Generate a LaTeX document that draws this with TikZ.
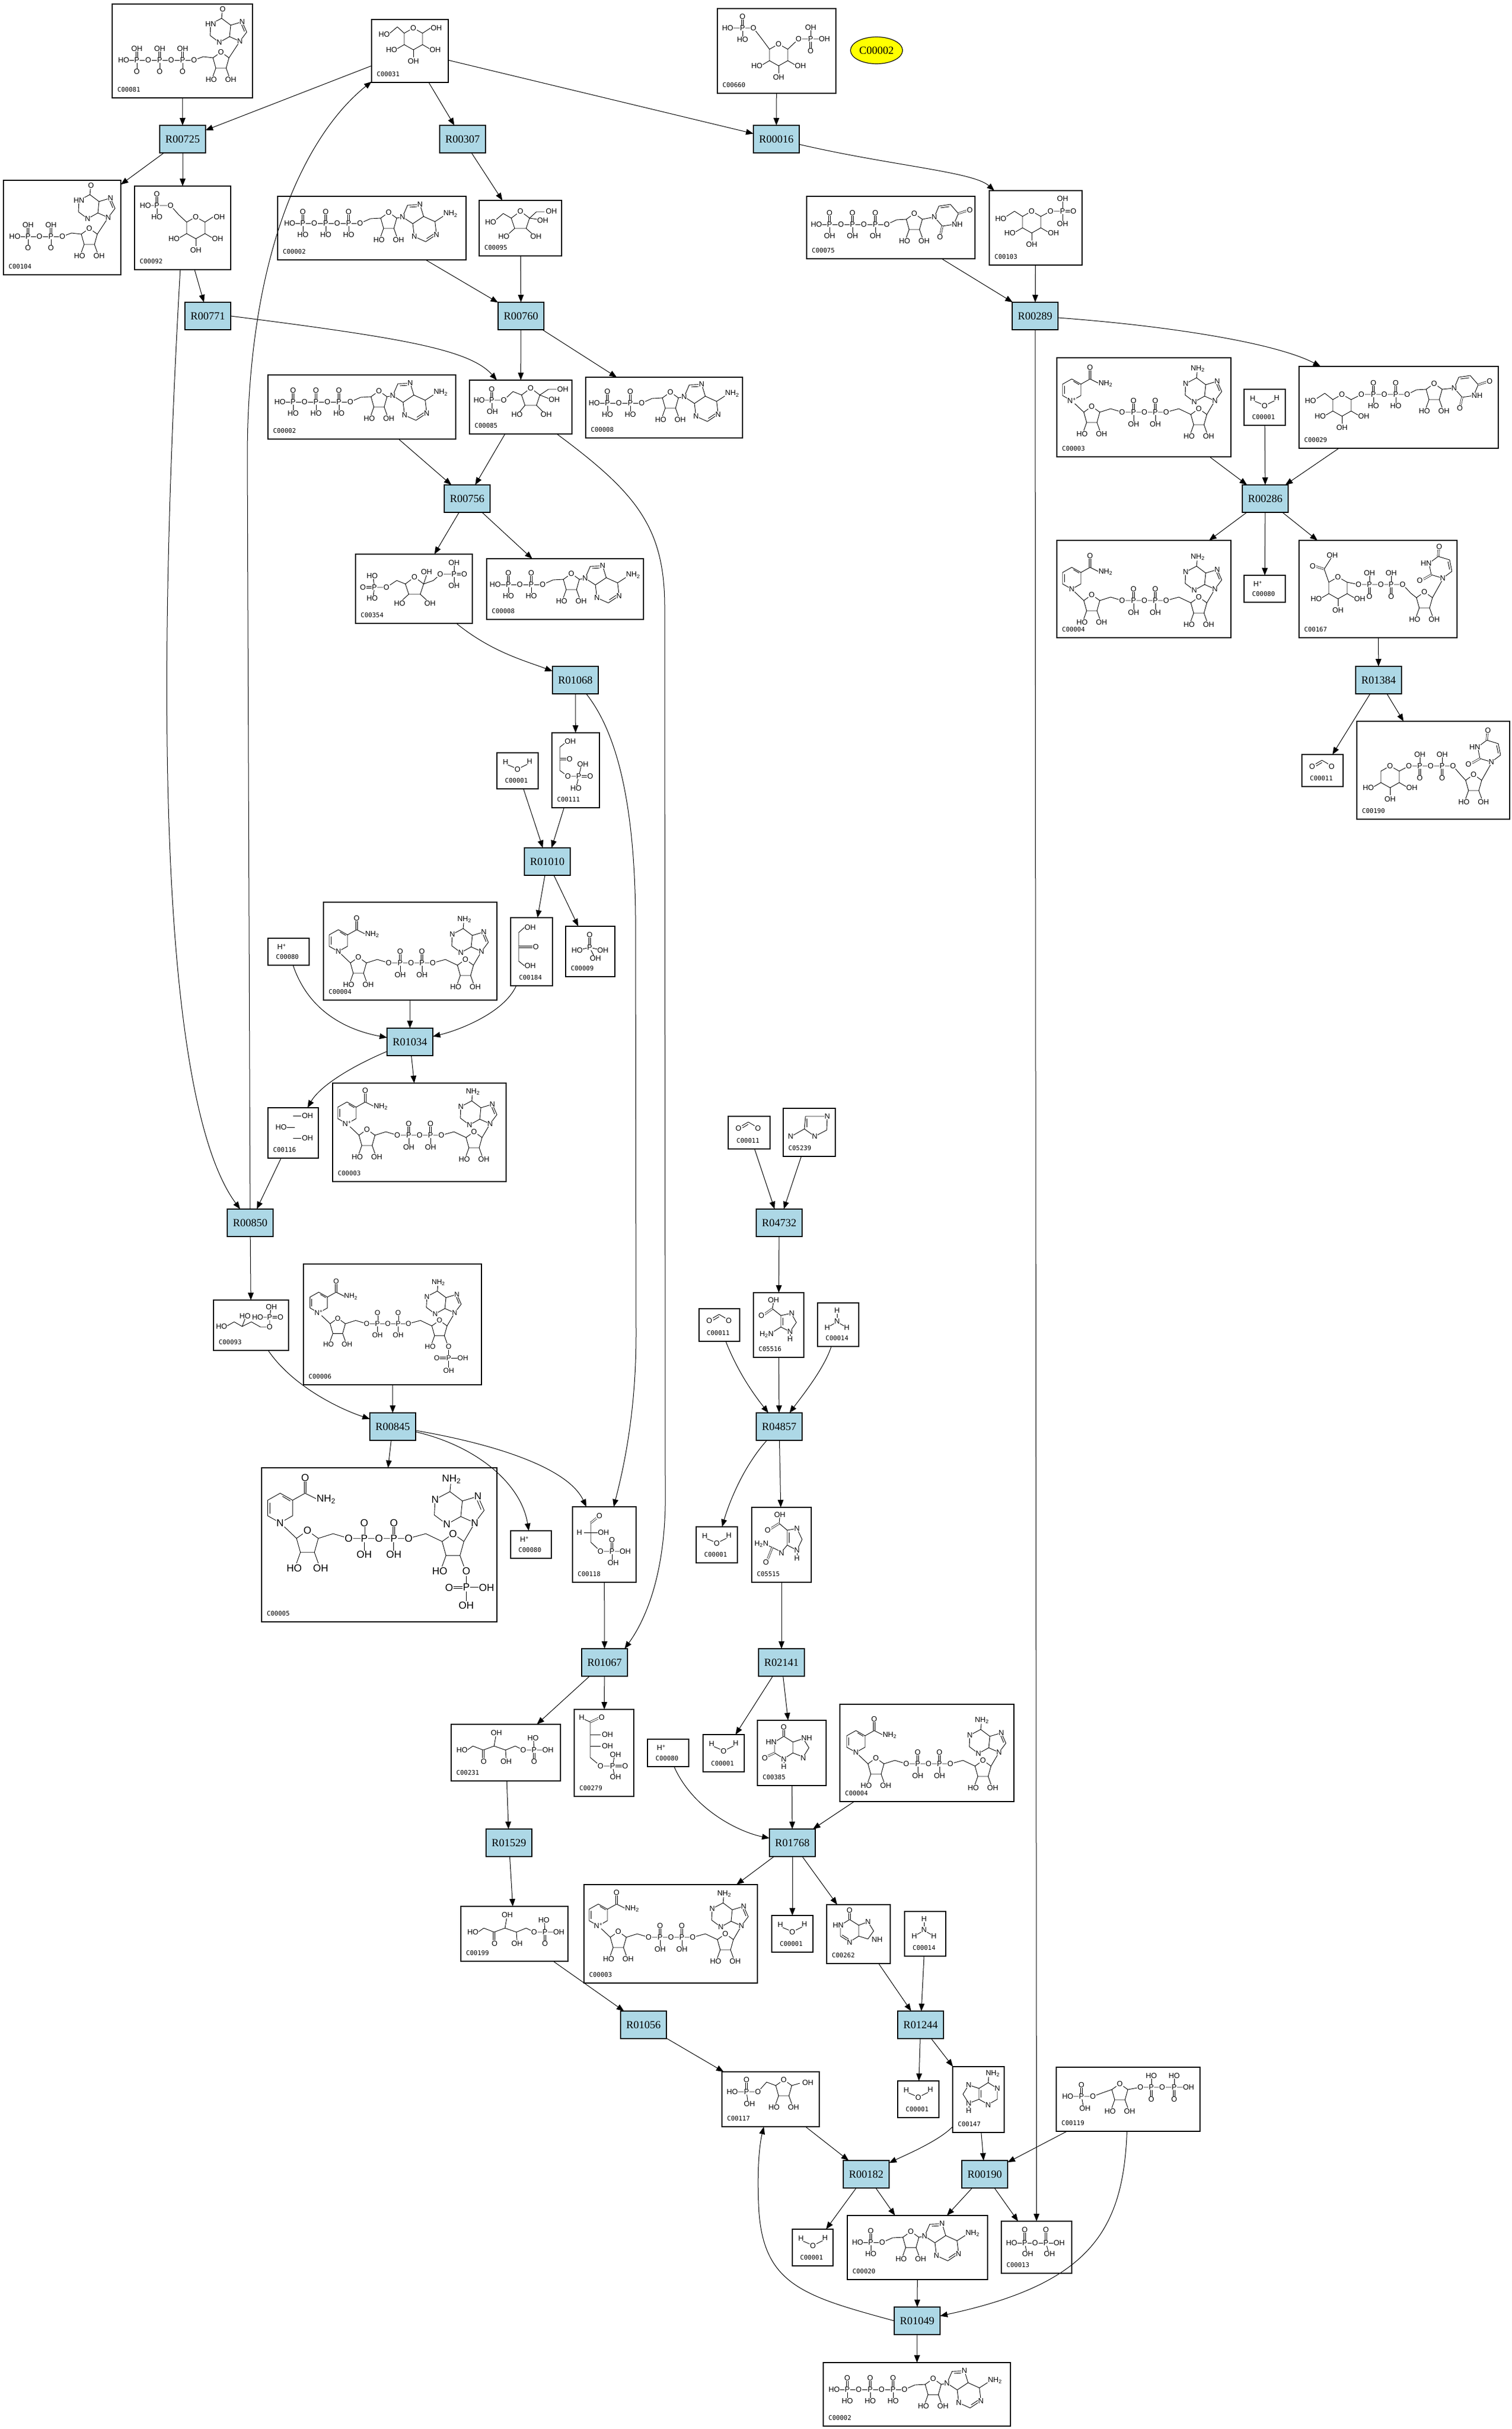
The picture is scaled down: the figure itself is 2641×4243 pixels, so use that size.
\documentclass[tikz,border=0pt]{standalone}
\usepackage{fontspec}
\setmainfont{Liberation Serif}
\newfontfamily\idfont{DejaVu Sans Mono}
\newfontfamily\atomfont{Liberation Sans}
\usetikzlibrary{arrows.meta,shapes.geometric}
\definecolor{rxnblue}{HTML}{ADD8E6}
\definecolor{cpdyellow}{HTML}{FFFF00}
\tikzset{
  cpdbox/.style={draw=black, line width=1.15pt, fill=white, inner sep=0pt, outer sep=0pt},
  rxnbox/.style={draw=black, line width=1.15pt, fill=rxnblue, inner sep=0pt, outer sep=0pt,
     minimum width=80pt, minimum height=48pt, font=\fontsize{19}{19}\selectfont},
  idlab/.style={inner sep=0pt, font=\idfont\fontsize{11}{11}\selectfont},
  atomlab/.style={inner sep=0.6pt, fill=white, font=\atomfont\fontsize{13}{13}\selectfont},
  bond/.style={line width=0.9pt},
  dbond/.style={line width=0.7pt, double, double distance=2pt},
  conn/.style={draw, line width=1.0pt, -{Triangle[length=13pt,width=10pt]}},
}
\newcounter{atm}
\newcommand\At[3]{\stepcounter{atm}\node[atomlab] (atm\arabic{atm}) at (#1,#2) {#3};}
% compound box with label at lower left
\newcommand\cpd[6]{%
  \node[cpdbox, minimum width={#4-#2}, minimum height={#5-#3}] (#1) at ({(#2+#4)/2},{(#3+#5)/2}) {};
  \node[idlab, anchor=west] (#1-id) at ({#2+9},{#5-14.5}) {#6};}
% compound box with centred label
\newcommand\cpdc[6]{%
  \node[cpdbox, minimum width={#4-#2}, minimum height={#5-#3}] (#1) at ({(#2+#4)/2},{(#3+#5)/2}) {};
  \node[idlab] (#1-id) at ({(#2+#4)/2-2},{#5-14.5}) {#6};}
\newcommand\rxn[3]{\node[rxnbox] (#1) at (#2,#3) {#1};}
% ---------- structure motifs (local px, y down) ----------
\newcommand\chainP[5]{% x0 y0 n top bottom
  \pgfmathsetmacro\cpEnd{#1+23+40*(#3-1)+20}
  \draw[bond] (#1,#2) -- (\cpEnd,#2);
  \foreach \k in {1,...,#3}{
    \pgfmathsetmacro\px{#1+23+40*(\k-1)}
    \draw[dbond] (\px,#2) -- (\px,#2-18);
    \draw[bond] (\px,#2) -- (\px,#2+18);
    \At{\px}{#2}{P}\At{\px+20}{#2}{O}\At{\px}{#2-20}{#4}\At{\px}{#2+20}{#5}}
  \At{#1}{#2}{HO}}
\newcommand\ribR[3]{% ring O at (#1,#2)
  \draw[bond] (#1,#2) -- (#1+14,#2+10) -- (#1+9,#2+28) -- (#1-9,#2+28) -- (#1-14,#2+10) -- cycle;
  \draw[bond] (#1-9,#2+28) -- (#1-14,#2+42);
  \draw[bond] (#1+9,#2+28) -- (#1+14,#2+42);
  \At{#1}{#2}{O}\At{#1-17}{#2+48}{HO}\At{#1+17}{#2+48}{#3}}
\newcommand\purR[3]{\begin{scope}[shift={(#1,#2)}, scale=0.9]
  \draw[bond] (0,0)--(10,-23)--(34,-24)--(41,-1)--(20,13)--cycle;
  \draw[bond] (41,-1)--(63,9)--(66,34)--(45,48)--(23,38)--(20,13);
  \draw[bond] (63,9)--(80,-2);
  \draw[bond] (14,-19)--(30,-20);
  \draw[bond] (47,42)--(62,32);
  \At{0}{0}{N}\At{34}{-24}{N}\At{66}{34}{N}\At{23}{38}{N}\At{93}{-6}{#3}
  \end{scope}}
\newcommand\purU[4]{\begin{scope}[shift={(#1,#2)}]
  \draw[bond] (0,0)--(12,-16)--(4,-34)--(-16,-28)--(-18,-8)--cycle;
  \draw[bond] (-16,-28)--(-32,-40)--(-51,-30)--(-52,-10)--(-36,2)--(-18,-8);
  \draw[bond] (-32,-40)--(-31,-50);
  \draw[bond] (8,-17)--(3,-29);
  \At{0}{0}{N}\At{4}{-34}{N}\At{-51}{-30}{#4}\At{-36}{2}{N}\At{-30}{-56}{#3}
  \end{scope}}
\newcommand\uraR[2]{\begin{scope}[shift={(#1,#2)}]
  \draw[bond] (0,0)--(8,-19)--(28,-22)--(42,-6)--(34,13)--(14,16)--cycle;
  \draw[bond] (11,-16)--(26,-18);
  \draw[dbond] (42,-6)--(57,-11);
  \draw[dbond] (14,16)--(11,30);
  \At{0}{0}{N}\At{40}{13}{NH}\At{62}{-12}{O}\At{10}{35}{O}
  \end{scope}}
\newcommand\uraU[2]{\begin{scope}[shift={(#1,#2)}]
  \draw[bond] (0,0)--(-20,-6)--(-24,-26)--(-8,-38)--(12,-32)--(16,-12)--cycle;
  \draw[bond] (9,-29)--(12,-15);
  \draw[dbond] (-20,-6)--(-34,2);
  \draw[dbond] (-8,-38)--(-7,-50);
  \At{0}{0}{N}\At{-29}{-26}{HN}\At{-40}{4}{O}\At{-6}{-55}{O}
  \end{scope}}
\newcommand\nic[3]{\begin{scope}[shift={(#1,#2)}]
  \draw[bond] (0,0)--(-16,-9)--(-16,-29)--(0,-38)--(16,-29)--(16,-9)--cycle;
  \draw[bond] (-13,-12)--(-13,-26); \draw[bond] (3,-34)--(13,-28);
  \draw[bond] (16,-29)--(32,-38)--(48,-30);
  \draw[dbond] (32,-38)--(32,-53);
  \At{0}{0}{#3}\At{32}{-58}{O}\At{59}{-30}{NH\textsubscript{2}}
  \end{scope}}
\newcommand\pyra[2]{% ring O at (#1,#2)
  \draw[bond] (#1,#2)--(#1+16,#2+9)--(#1+16,#2+29)--(#1,#2+38)--(#1-16,#2+29)--(#1-16,#2+9)--cycle;
  \draw[bond] (#1+16,#2+29)--(#1+28,#2+36);
  \draw[bond] (#1,#2+38)--(#1,#2+51);
  \draw[bond] (#1-16,#2+29)--(#1-28,#2+36);
  \At{#1}{#2}{O}\At{#1+38}{#2+38}{OH}\At{#1}{#2+58}{OH}\At{#1-38}{#2+38}{HO}}
% composites
\newcommand\ATPc[3]{% n, x0, y0
  \pgfmathsetmacro\cLo{#2+23+40*(#1-1)+20}
  \draw[bond] (\cLo,#3) -- (\cLo+18,#3-8) -- (\cLo+36,#3-9);
  \draw[bond] (\cLo+64,#3-9) -- (\cLo+74,#3-11);
  \chainP{#2}{#3}{#1}{O}{HO}
  \ribR{\cLo+50}{#3-19}{OH}
  \purR{\cLo+74}{#3-11}{NH\textsubscript{2}}}
\newcommand\ITPc[3]{%
  \pgfmathsetmacro\cLo{#2+23+40*(#1-1)+20}
  \draw[bond] (\cLo,#3) -- (\cLo+16,#3-6) -- (\cLo+33,#3-4);
  \draw[bond] (\cLo+61,#3-4) -- (\cLo+80,#3-33);
  \chainP{#2}{#3}{#1}{OH}{O}
  \ribR{\cLo+47}{#3-14}{OH}
  \purU{\cLo+80}{#3-33}{O}{HN}}
\newcommand\UTPc[3]{%
  \pgfmathsetmacro\cLo{#2+23+40*(#1-1)+20}
  \draw[bond] (\cLo,#3) -- (\cLo+17,#3-8) -- (\cLo+34,#3-9);
  \draw[bond] (\cLo+62,#3-9) -- (\cLo+83,#3-13);
  \chainP{#2}{#3}{#1}{O}{OH}
  \ribR{\cLo+48}{#3-19}{OH}
  \uraR{\cLo+83}{#3-13}}
\newcommand\NADc[2]{%
  \draw[bond] (26,75)--(47,95);
  \draw[bond] (75,95)--(94,89)--(114,95)--(191,95)--(213,89)--(234,99);
  \draw[bond] (262,99)--(276,75);
  \foreach \qx in {134,172}{\draw[dbond] (\qx,95)--(\qx,78); \draw[bond] (\qx,95)--(\qx,112);}
  \nic{26}{75}{#1}
  \ribR{61}{85}{OH}
  \ribR{248}{89}{#2}
  \At{114}{95}{O}\At{134}{95}{P}\At{153}{95}{O}\At{172}{95}{P}\At{191}{95}{O}
  \At{134}{75}{O}\At{134}{116}{OH}\At{172}{75}{O}\At{172}{116}{OH}
  \purU{276}{75}{NH\textsubscript{2}}{N}}
\newcommand\NADPext{%
  \draw[bond] (265,143)--(265,158)--(287,158); \draw[bond] (265,158)--(265,176);
  \draw[dbond] (265,158)--(246,158);
  \At{265}{158}{P}\At{243}{158}{O}\At{291}{158}{OH}\At{265}{181}{OH}}
\newcommand\ketopent{% HO-CH2-CO-CHOH-CHOH-CH2-O-PO3H2
  \draw[bond] (28,45)--(38,38)--(56,45)--(75,38)--(95,45)--(112,38)--(126,45)--(170,45);
  \draw[dbond] (56,45)--(56,59); \draw[bond] (75,38)--(78,21); \draw[bond] (95,45)--(96,59);
  \draw[bond] (145,45)--(144,29); \draw[dbond] (145,45)--(145,60);
  \At{19}{45}{HO}\At{57}{65}{O}\At{79}{15}{OH}\At{96}{65}{OH}\At{126}{45}{O}\At{145}{45}{P}
  \At{169}{45}{OH}\At{143}{24}{HO}\At{145}{65}{O}}
% small molecules
\newcommand\water[3]{%
  \draw[bond] ({#2+19},{#3+21}) -- ({#2+31},{#3+26});
  \draw[bond] ({#2+41},{#3+26}) -- ({#2+53},{#3+20});
  \node[atomlab] (#1-h1) at ({#2+15},{#3+16}) {H};
  \node[atomlab] (#1-o) at ({#2+36},{#3+29}) {O};
  \node[atomlab] (#1-h2) at ({#2+57},{#3+15}) {H};}
\newcommand\carbdiox[3]{%
  \draw[bond] ({#2+23},{#3+17}) -- ({#2+35},{#3+10}) -- ({#2+47},{#3+17});
  \draw[bond] ({#2+25},{#3+20}) -- ({#2+35},{#3+14});
  \node[atomlab] (#1-o1) at ({#2+18},{#3+21}) {O};
  \node[atomlab] (#1-o2) at ({#2+52},{#3+21}) {O};}
\newcommand\proton[3]{%
  \node[atomlab] (#1-h) at ({#2+24},{#3+15}) {H\textsuperscript{+}};}
\newcommand\ammonia[3]{%
  \draw[bond] ({#2+34},{#3+19}) -- ({#2+34},{#3+26});
  \draw[bond] ({#2+29},{#3+36}) -- ({#2+22},{#3+40});
  \draw[bond] ({#2+39},{#3+36}) -- ({#2+46},{#3+40});
  \node[atomlab] (#1-ht) at ({#2+34},{#3+13}) {H};
  \node[atomlab] (#1-n) at ({#2+34},{#3+32}) {N};
  \node[atomlab] (#1-hl) at ({#2+17},{#3+43}) {H};
  \node[atomlab] (#1-hr) at ({#2+51},{#3+43}) {H};}
\begin{document}
\begin{tikzpicture}[x=1pt,y=-1pt]
\useasboundingbox (0,0) rectangle (2641,4243);
\fill[white] (0,0) rectangle (2641,4243);
% ---------- compounds ----------
\cpd{c81}{196}{7}{441}{171}{C00081}
\cpd{c31}{649}{34}{783}{144}{C00031}
\cpd{c660}{1253}{15}{1460}{163}{C00660}
\node[draw=black, line width=1.15pt, fill=cpdyellow, ellipse, minimum width=91pt, minimum height=47pt, inner sep=0pt, font=\fontsize{19}{19}\selectfont] (y2) at (1531,88) {C00002};
\cpd{c104}{6}{315}{211}{480}{C00104}
\cpd{c92}{235}{325}{403}{471}{C00092}
\cpd{c2a}{485}{343}{814}{454}{C00002}
\cpd{c95}{837}{350}{981}{447}{C00095}
\cpd{c75}{1409}{343}{1703}{452}{C00075}
\cpd{c103}{1728}{333}{1890}{463}{C00103}
\cpd{c2b}{468}{655}{796}{767}{C00002}
\cpd{c85}{820}{664}{999}{758}{C00085}
\cpd{c8a}{1023}{659}{1297}{765}{C00008}
\cpd{c3a}{1846}{625}{2150}{798}{C00003}
\cpdc{c1a}{2173}{680}{2245}{743}{C00001}
\cpd{c29}{2269}{640}{2617}{783}{C00029}
\cpd{c354}{621}{968}{825}{1089}{C00354}
\cpd{c8b}{850}{976}{1124}{1082}{C00008}
\cpd{c4a}{1846}{944}{2150}{1114}{C00004}
\cpdc{c80a}{2173}{1005}{2245}{1052}{C00080}
\cpd{c167}{2269}{944}{2545}{1114}{C00167}
\cpdc{c1b}{868}{1315}{940}{1378}{C00001}
\cpd{c111}{964}{1280}{1047}{1411}{C00111}
\cpdc{c11a}{2274}{1318}{2346}{1374}{C00011}
\cpd{c190}{2370}{1260}{2637}{1431}{C00190}
\cpdc{c80b}{468}{1639}{540}{1686}{C00080}
\cpd{c4b}{565}{1576}{868}{1747}{C00004}
\cpdc{c184}{892}{1603}{965}{1722}{C00184}
\cpd{c9}{988}{1618}{1074}{1706}{C00009}
\cpd{c116}{468}{1935}{556}{2023}{C00116}
\cpd{c3b}{581}{1892}{884}{2064}{C00003}
\cpdc{c11b}{1272}{1950}{1345}{2007}{C00011}
\cpd{c5239}{1368}{1936}{1459}{2020}{C05239}
\cpd{c93}{373}{2271}{504}{2359}{C00093}
\cpd{c6}{530}{2208}{841}{2419}{C00006}
\cpd{c5516}{1316}{2258}{1404}{2371}{C05516}
\cpdc{c11c}{1221}{2286}{1292}{2343}{C00011}
\cpdc{c14a}{1428}{2276}{1500}{2352}{C00014}
\cpd{c5}{457}{2564}{868}{2833}{C00005}
\cpdc{c80c}{892}{2674}{963}{2722}{C00080}
\cpd{c118}{1000}{2632}{1111}{2764}{C00118}
\cpdc{c1c}{1216}{2667}{1288}{2730}{C00001}
\cpd{c5515}{1313}{2633}{1417}{2764}{C05515}
\cpd{c231}{788}{3012}{979}{3111}{C00231}
\cpd{c279}{1003}{2986}{1107}{3138}{C00279}
\cpdc{c80d}{1131}{3038}{1203}{3086}{C00080}
\cpdc{c1d}{1228}{3030}{1300}{3095}{C00001}
\cpd{c385}{1323}{3005}{1443}{3119}{C00385}
\cpd{c4c}{1467}{2977}{1771}{3147}{C00004}
\cpd{c3c}{1020}{3292}{1323}{3464}{C00003}
\cpd{c199}{805}{3330}{992}{3426}{C00199}
\cpdc{c1e}{1348}{3346}{1420}{3410}{C00001}
\cpd{c262}{1444}{3327}{1555}{3430}{C00262}
\cpdc{c14b}{1580}{3339}{1652}{3417}{C00014}
\cpd{c117}{1261}{3619}{1431}{3715}{C00117}
\cpdc{c1f}{1568}{3635}{1640}{3699}{C00001}
\cpd{c147}{1664}{3610}{1754}{3725}{C00147}
\cpd{c119}{1845}{3611}{2096}{3723}{C00119}
\cpdc{c1g}{1384}{3894}{1455}{3958}{C00001}
\cpd{c20}{1480}{3870}{1725}{3982}{C00020}
\cpd{c13}{1749}{3880}{1872}{3971}{C00013}
\cpd{c2c}{1438}{4127}{1765}{4238}{C00002}
% ---------- structures ----------
\water{w1a}{2173}{680}\water{w1b}{868}{1315}\water{w1c}{1216}{2667}\water{w1d}{1228}{3030}
\water{w1e}{1348}{3346}\water{w1f}{1568}{3635}\water{w1g}{1384}{3894}
\carbdiox{d11a}{2274}{1318}\carbdiox{d11b}{1272}{1950}\carbdiox{d11c}{1221}{2286}
\proton{p80a}{2173}{1005}\proton{p80b}{468}{1639}\proton{p80c}{892}{2674}\proton{p80d}{1131}{3038}
\ammonia{n14a}{1428}{2276}\ammonia{n14b}{1580}{3339}
% nucleoside triphosphates etc.
\begin{scope}[shift={(485,343)}]\ATPc{3}{21}{47}\end{scope}
\begin{scope}[shift={(468,655)}]\ATPc{3}{21}{47}\end{scope}
\begin{scope}[shift={(1438,4127)}]\ATPc{3}{19}{47}\end{scope}
\begin{scope}[shift={(1023,659)}]\ATPc{2}{15}{45}\end{scope}
\begin{scope}[shift={(850,976)}]\ATPc{2}{15}{45}\end{scope}
\begin{scope}[shift={(1480,3870)}]\ATPc{1}{18}{47}\end{scope}
\begin{scope}[shift={(196,7)}]\ITPc{3}{20}{98}\end{scope}
\begin{scope}[shift={(6,315)}]\ITPc{2}{20}{98}\end{scope}
\begin{scope}[shift={(1409,343)}]\UTPc{3}{17}{49}\end{scope}
% NAD(P)(H)
\begin{scope}[shift={(1846,625)}]\NADc{N\textsuperscript{+}}{OH}\end{scope}
\begin{scope}[shift={(1846,954)}]\NADc{N}{OH}\end{scope}
\begin{scope}[shift={(565,1587)}]\NADc{N}{OH}\end{scope}
\begin{scope}[shift={(580,1888)}]\NADc{N\textsuperscript{+}}{OH}\end{scope}
\begin{scope}[shift={(1469,2986)}]\NADc{N}{OH}\end{scope}
\begin{scope}[shift={(1019,3289)}]\NADc{N\textsuperscript{+}}{OH}\end{scope}
\begin{scope}[shift={(532,2222)}, scale=0.95, transform shape]\NADc{N\textsuperscript{+}}{O}\NADPext\end{scope}
\begin{scope}[shift={(454,2558)}, scale=1.36, transform shape]\NADc{N}{O}\NADPext\end{scope}
% sugars
\begin{scope}[shift={(649,34)}]
  \draw[bond] (57,24)--(45,13)--(32,24); \draw[bond] (89,24)--(103,15);
  \pyra{73}{15}\At{22}{26}{HO}\At{113}{15}{OH}
\end{scope}
\begin{scope}[shift={(235,325)}]
  \draw[bond] (123,63)--(137,54);
  \draw[bond] (91,63)--(77,50)--(63,34)--(19,34); \draw[dbond] (39,34)--(39,16); \draw[bond] (39,34)--(39,52);
  \pyra{107}{54}
  \At{148}{54}{OH}\At{63}{34}{O}\At{39}{34}{P}\At{19}{34}{HO}\At{39}{14}{O}\At{39}{54}{HO}
\end{scope}
\begin{scope}[shift={(1728,333)}]
  \draw[bond] (58,45)--(44,36)--(30,45);
  \draw[bond] (90,45)--(107,36)--(128,36); \draw[dbond] (128,36)--(144,36);
  \draw[bond] (128,36)--(128,16); \draw[bond] (128,36)--(128,56);
  \pyra{74}{36}
  \At{20}{49}{HO}\At{107}{36}{O}\At{128}{36}{P}\At{147}{36}{O}\At{128}{14}{OH}\At{128}{58}{OH}
\end{scope}
\begin{scope}[shift={(1253,15)}]
  \draw[bond] (91,71)--(77,52)--(63,34)--(18,34); \draw[dbond] (44,34)--(44,16); \draw[bond] (44,34)--(44,52);
  \draw[bond] (123,71)--(142,53)--(187,53); \draw[bond] (163,53)--(163,35); \draw[dbond] (163,53)--(163,70);
  \pyra{107}{62}
  \At{63}{34}{O}\At{44}{34}{P}\At{18}{34}{HO}\At{44}{14}{O}\At{44}{54}{HO}
  \At{142}{53}{O}\At{163}{53}{P}\At{187}{53}{OH}\At{163}{33}{OH}\At{163}{74}{O}
\end{scope}
\begin{scope}[shift={(2269,640)}]
  \draw[bond] (59,58)--(45,47)--(31,56);
  \draw[bond] (91,58)--(109,49)--(189,49)--(205,41)--(222,40);
  \foreach \qx in {130,169}{\draw[dbond] (\qx,49)--(\qx,32); \draw[bond] (\qx,49)--(\qx,66);}
  \draw[bond] (250,40)--(271,38);
  \pyra{75}{49}
  \At{20}{60}{HO}\At{109}{49}{O}\At{130}{49}{P}\At{149}{49}{O}\At{169}{49}{P}\At{189}{49}{O}
  \At{130}{29}{O}\At{130}{69}{HO}\At{169}{29}{O}\At{169}{69}{HO}
  \ribR{236}{30}{OH}\uraR{271}{38}
\end{scope}
\begin{scope}[shift={(2269,944)}]
  \draw[bond] (52,73)--(44,50)--(56,31); \draw[dbond] (44,50)--(28,45);
  \draw[bond] (84,73)--(104,77)--(181,77)--(195,92)--(205,100);
  \foreach \qx in {123,161}{\draw[bond] (\qx,77)--(\qx,60); \draw[dbond] (\qx,77)--(\qx,94);}
  \draw[bond] (233,100)--(251,68);
  \pyra{68}{64}
  \At{58}{26}{OH}\At{24}{45}{O}
  \At{104}{77}{O}\At{123}{77}{P}\At{143}{77}{O}\At{161}{77}{P}\At{181}{77}{O}
  \At{123}{57}{OH}\At{123}{98}{O}\At{161}{57}{OH}\At{161}{98}{O}
  \ribR{219}{90}{OH}\uraU{251}{66}
\end{scope}
\begin{scope}[shift={(2370,1260)}]
  \draw[bond] (74,87)--(91,78)--(168,78)--(180,92)--(190,103);
  \foreach \qx in {110,149}{\draw[bond] (\qx,78)--(\qx,61); \draw[dbond] (\qx,78)--(\qx,95);}
  \draw[bond] (218,103)--(235,73);
  \pyra{58}{78}
  \At{91}{78}{O}\At{110}{78}{P}\At{129}{78}{O}\At{149}{78}{P}\At{168}{78}{O}
  \At{110}{58}{OH}\At{110}{99}{O}\At{149}{58}{OH}\At{149}{99}{O}
  \ribR{204}{93}{OH}\uraU{235}{71}
\end{scope}
% furanoses
\begin{scope}[shift={(837,350)}]
  \draw[bond] (72,19)--(88,31)--(82,49)--(62,49)--(56,31)--cycle;
  \draw[bond] (56,31)--(42,23)--(28,35); \draw[bond] (62,49)--(52,58); \draw[bond] (82,49)--(92,58);
  \draw[bond] (88,31)--(101,33); \draw[bond] (88,31)--(100,20)--(114,20);
  \At{72}{19}{O}\At{20}{38}{HO}\At{43}{63}{HO}\At{99}{63}{OH}\At{111}{35}{OH}\At{126}{19}{OH}
\end{scope}
\begin{scope}[shift={(820,664)}]
  \draw[bond] (107,14)--(123,26)--(117,44)--(97,44)--(91,26)--cycle;
  \draw[bond] (91,26)--(76,20)--(60,35)--(17,35); \draw[dbond] (39,35)--(39,18); \draw[bond] (39,35)--(39,52);
  \draw[bond] (97,44)--(88,55); \draw[bond] (117,44)--(128,55);
  \draw[bond] (123,26)--(138,32); \draw[bond] (123,26)--(138,16)--(152,16);
  \At{107}{14}{O}\At{60}{35}{O}\At{39}{35}{P}\At{17}{35}{HO}\At{39}{16}{O}\At{40}{55}{OH}
  \At{83}{60}{HO}\At{134}{60}{OH}\At{148}{34}{OH}\At{163}{16}{OH}
\end{scope}
\begin{scope}[shift={(621,968)}]
  \draw[bond] (103,40)--(119,52)--(113,70)--(93,70)--(87,52)--cycle;
  \draw[bond] (87,52)--(72,46)--(54,58)--(33,58); \draw[dbond] (33,58)--(16,58);
  \draw[bond] (33,58)--(31,42); \draw[bond] (33,58)--(31,73);
  \draw[bond] (93,70)--(82,80); \draw[bond] (113,70)--(124,80); \draw[bond] (119,52)--(124,37);
  \draw[bond] (119,52)--(136,46)--(148,35)--(172,35); \draw[dbond] (172,35)--(186,35);
  \draw[bond] (172,35)--(172,18); \draw[bond] (172,35)--(172,52);
  \At{103}{40}{O}\At{29}{38}{HO}\At{13}{58}{O}\At{33}{58}{P}\At{54}{58}{O}\At{29}{77}{HO}
  \At{77}{86}{HO}\At{130}{86}{OH}\At{124}{31}{OH}\At{148}{35}{O}\At{172}{35}{P}\At{190}{35}{O}
  \At{172}{15}{OH}\At{172}{55}{OH}
\end{scope}
\begin{scope}[shift={(1261,3619)}]
  \draw[bond] (122,24)--(136,20); \draw[bond] (94,24)--(78,18)--(63,35)--(18,35);
  \draw[dbond] (43,35)--(43,18); \draw[bond] (43,35)--(45,51);
  \ribR{108}{14}{OH}
  \At{63}{35}{O}\At{43}{35}{P}\At{18}{35}{HO}\At{43}{14}{O}\At{48}{56}{OH}\At{150}{19}{OH}
\end{scope}
\begin{scope}[shift={(1845,3611)}]
  \draw[bond] (20,51)--(64,51)--(80,45)--(97,39); \draw[dbond] (44,51)--(44,34); \draw[bond] (44,51)--(47,67);
  \draw[bond] (125,39)--(147,35)--(231,35);
  \foreach \qx in {166,206}{\draw[bond] (\qx,35)--(\qx,19); \draw[dbond] (\qx,35)--(\qx,52);}
  \ribR{111}{29}{OH}
  \At{20}{51}{HO}\At{44}{51}{P}\At{64}{51}{O}\At{44}{31}{O}\At{50}{72}{OH}
  \At{147}{35}{O}\At{166}{35}{P}\At{185}{35}{O}\At{206}{35}{P}\At{231}{35}{OH}
  \At{166}{15}{HO}\At{166}{56}{O}\At{206}{15}{HO}\At{206}{56}{O}
\end{scope}
% small organics
\begin{scope}[shift={(964,1280)}]
  \draw[bond] (24,17)--(14,25)--(14,46)--(14,66)--(28,76)--(47,76); \draw[dbond] (14,46)--(27,46);
  \draw[dbond] (47,76)--(63,76); \draw[bond] (47,76)--(51,59); \draw[bond] (47,76)--(43,93);
  \At{32}{15}{OH}\At{31}{46}{O}\At{28}{76}{O}\At{47}{76}{P}\At{67}{76}{O}\At{54}{55}{OH}\At{42}{97}{HO}
\end{scope}
\begin{scope}[shift={(892,1603)}]
  \draw[bond] (24,17)--(14,26)--(14,51)--(14,76)--(24,84); \draw[dbond] (14,51)--(38,51);
  \At{34}{17}{OH}\At{44}{51}{O}\At{34}{84}{OH}
\end{scope}
\begin{scope}[shift={(988,1618)}]
  \draw[dbond] (42,37)--(42,20); \draw[bond] (20,42)--(42,37)--(65,42); \draw[bond] (42,37)--(50,53);
  \At{42}{15}{O}\At{42}{37}{P}\At{20}{42}{HO}\At{65}{42}{OH}\At{52}{56}{OH}
\end{scope}
\begin{scope}[shift={(468,1935)}]
  \draw[bond] (44,14)--(58,14); \draw[bond] (33,34)--(47,34); \draw[bond] (44,53)--(58,53);
  \At{69}{14}{OH}\At{23}{34}{HO}\At{69}{53}{OH}
\end{scope}
\begin{scope}[shift={(373,2271)}]
  \draw[bond] (22,46)--(36,38)--(50,46)--(66,38)--(82,47)--(98,47)--(98,30)--(77,30);
  \draw[bond] (50,46)--(55,33); \draw[bond] (98,30)--(100,16); \draw[dbond] (98,30)--(113,30);
  \At{14}{46}{HO}\At{55}{28}{HO}\At{77}{30}{HO}\At{98}{30}{P}\At{117}{30}{O}\At{101}{12}{OH}\At{98}{47}{O}
\end{scope}
\begin{scope}[shift={(1000,2632)}]
  \draw[dbond] (32,28)--(43,19); \draw[bond] (32,28)--(32,62)--(49,78)--(91,78);
  \draw[bond] (20,45)--(46,45); \draw[dbond] (69,78)--(69,61); \draw[bond] (69,78)--(69,95);
  \At{47}{16}{O}\At{12}{45}{H}\At{54}{45}{OH}\At{49}{78}{O}\At{69}{78}{P}\At{92}{78}{OH}\At{69}{58}{O}\At{71}{98}{OH}
\end{scope}
\begin{scope}[shift={(788,3012)}]\ketopent\end{scope}
\begin{scope}[shift={(807,3330)}]\ketopent\end{scope}
\begin{scope}[shift={(1003,2986)}]
  \draw[bond] (17,17)--(28,22); \draw[dbond] (28,22)--(43,15);
  \draw[bond] (28,22)--(28,84)--(46,99)--(67,99); \draw[bond] (28,44)--(46,44); \draw[bond] (28,64)--(46,64);
  \draw[dbond] (67,99)--(85,99); \draw[bond] (67,99)--(70,83); \draw[bond] (67,99)--(70,114);
  \At{13}{14}{H}\At{48}{14}{O}\At{58}{44}{OH}\At{58}{64}{OH}\At{72}{79}{OH}\At{46}{99}{O}\At{67}{99}{P}\At{89}{99}{O}\At{72}{118}{OH}
\end{scope}
\begin{scope}[shift={(1749,3880)}]
  \draw[bond] (18,38)--(101,38); \draw[dbond] (41,38)--(41,19); \draw[dbond] (78,38)--(78,19);
  \draw[bond] (41,38)--(44,53); \draw[bond] (78,38)--(82,53);
  \At{18}{38}{HO}\At{41}{38}{P}\At{59}{38}{O}\At{78}{38}{P}\At{101}{38}{OH}\At{41}{15}{O}\At{78}{15}{O}\At{46}{57}{OH}\At{84}{57}{OH}
\end{scope}
% bases
\begin{scope}[shift={(1664,3610)}]
  \draw[bond] (62,28)--(78,38)--(78,57)--(62,66)--(46,57)--(46,38)--cycle;
  \draw[bond] (46,38)--(28,32)--(18,48)--(28,64)--(46,57); \draw[bond] (62,28)--(63,17);
  \draw[bond] (49,41)--(49,54); \draw[bond] (28,64)--(28,72);
  \At{70}{12}{NH\textsubscript{2}}\At{78}{38}{N}\At{62}{67}{N}\At{28}{32}{N}\At{28}{64}{N}\At{28}{77}{H}
\end{scope}
\begin{scope}[shift={(1444,3327)}]
  \draw[bond] (40,26)--(24,36)--(24,55)--(40,65)--(56,55)--(56,36)--cycle;
  \draw[bond] (56,36)--(72,30)--(82,46)--(72,60)--(56,55); \draw[dbond] (40,26)--(40,14);
  \draw[bond] (27,53)--(38,60);
  \At{40}{10}{O}\At{20}{36}{HN}\At{40}{66}{N}\At{72}{30}{N}\At{88}{61}{NH}
\end{scope}
\begin{scope}[shift={(1323,3005)}]
  \draw[bond] (46,28)--(30,38)--(30,57)--(46,67)--(62,57)--(62,38)--cycle;
  \draw[bond] (62,38)--(80,32)--(90,48)--(80,64)--(62,57); \draw[dbond] (46,28)--(46,16);
  \draw[dbond] (30,57)--(17,63); \draw[bond] (46,67)--(46,75);
  \At{46}{12}{O}\At{24}{38}{HN}\At{13}{66}{O}\At{46}{68}{N}\At{46}{81}{H}\At{86}{31}{NH}\At{80}{66}{N}
\end{scope}
\begin{scope}[shift={(1368,1936)}]
  \draw[bond] (39,14)--(77,14)--(76,38)--(55,49)--(37,36)--cycle; \draw[bond] (41,18)--(41,33);
  \draw[bond] (37,36)--(14,49);
  \At{77}{14}{N}\At{55}{49}{N}\At{13}{49}{N}
\end{scope}
\begin{scope}[shift={(1316,2258)}]
  \draw[bond] (48,40)--(66,36)--(75,52)--(64,68)--(48,60)--cycle; \draw[bond] (51,44)--(51,57);
  \draw[bond] (48,40)--(33,28)--(35,17); \draw[dbond] (33,28)--(19,38); \draw[bond] (48,60)--(32,70);
  \draw[bond] (64,68)--(64,76);
  \At{35}{13}{OH}\At{14}{40}{O}\At{67}{36}{N}\At{64}{68}{N}\At{64}{81}{H}\At{23}{73}{H\textsubscript{2}N}
\end{scope}
\begin{scope}[shift={(1313,2633)}]
  \draw[bond] (62,40)--(79,37)--(88,56)--(79,75)--(62,66)--cycle; \draw[bond] (65,44)--(65,62);
  \draw[bond] (62,40)--(48,28)--(49,17); \draw[dbond] (48,28)--(32,38);
  \draw[bond] (62,66)--(52,78)--(36,70)--(22,64); \draw[dbond] (36,70)--(28,90);
  \draw[bond] (79,75)--(79,84);
  \At{49}{13}{OH}\At{28}{40}{O}\At{79}{37}{N}\At{79}{75}{N}\At{79}{89}{H}\At{17}{64}{H\textsubscript{2}N}\At{52}{80}{N}\At{25}{96}{O}
\end{scope}
% ---------- reactions ----------
\rxn{R00725}{319}{243}
\rxn{R00307}{808}{243}
\rxn{R00016}{1356}{243}
\rxn{R00771}{363}{552}
\rxn{R00760}{910}{552}
\rxn{R00289}{1808}{552}
\rxn{R00756}{816}{871}
\rxn{R00286}{2210}{871}
\rxn{R01068}{1005}{1188}
\rxn{R01384}{2408}{1188}
\rxn{R01010}{956}{1505}
\rxn{R01034}{716}{1820}
\rxn{R04732}{1361}{2136}
\rxn{R00850}{437}{2136}
\rxn{R00845}{686}{2492}
\rxn{R04857}{1361}{2492}
\rxn{R01067}{1056}{2904}
\rxn{R02141}{1365}{2904}
\rxn{R01529}{889}{3219}
\rxn{R01768}{1384}{3219}
\rxn{R01056}{1124}{3537}
\rxn{R01244}{1608}{3537}
\rxn{R00182}{1513}{3798}
\rxn{R00190}{1720}{3798}
\rxn{R01049}{1602}{4054}
% ---------- connectors ----------
\draw[conn] (c81) -- (R00725);
\draw[conn] (c31) -- (R00725);
\draw[conn] (c31) -- (R00307);
\draw[conn] (c31) -- (R00016);
\draw[conn] (c660) -- (R00016);
\draw[conn] (R00725) -- (c104);
\draw[conn] (R00725) -- (c92);
\draw[conn] (R00307) -- (c95);
\draw[conn] (c92) -- (R00771);
\draw[conn] (c92) .. controls (262,1400) and (300,1950) .. (R00850);
\draw[conn] (R00850) -- (432,800) .. controls (432,430) and (540,230) .. (c31);
\draw[conn] (R00771.east) .. controls (700,590) and (820,610) .. (c85);
\draw[conn] (c2a) -- (R00760);
\draw[conn] (c95) -- (R00760);
\draw[conn] (R00760) -- (c85);
\draw[conn] (R00760) -- (c8a);
\draw[conn] (c2b) -- (R00756);
\draw[conn] (c85) -- (R00756);
\draw[conn] (c85) .. controls (1110,860) and (1161,920) .. (1161,1060) -- (1162,2600) .. controls (1165,2760) and (1120,2840) .. ([xshift=-5pt]R01067.north east);
\draw[conn] (R00756) -- (c354);
\draw[conn] (R00756) -- (c8b);
\draw[conn] (c354) .. controls (860,1140) and (920,1155) .. (R01068);
\draw[conn] (R01068) -- (c111);
\draw[conn] (R01068) .. controls (1070,1270) and (1108,1380) .. (1110,1600) -- (1111,2330) .. controls (1111,2480) and (1085,2580) .. (c118);
\draw[conn] (c1b) -- (R01010);
\draw[conn] (c111) -- (R01010);
\draw[conn] (R01010) -- (c184);
\draw[conn] (R01010) -- (c9);
\draw[conn] (c80b) .. controls (540,1770) and (610,1800) .. (R01034);
\draw[conn] (c4b) -- (R01034);
\draw[conn] (c184) .. controls (880,1770) and (800,1800) .. (R01034);
\draw[conn] (R01034) .. controls (620,1860) and (560,1895) .. (c116);
\draw[conn] (R01034) -- (c3b);
\draw[conn] (c116) -- (R00850);
\draw[conn] (R00850) -- (c93);
\draw[conn] (c93) .. controls (510,2420) and (590,2460) .. (R00845);
\draw[conn] (c6) -- (R00845);
\draw[conn] (R00845) -- (c5);
\draw[conn] (R00845) .. controls (830,2525) and (910,2590) .. (c80c);
\draw[conn] (R00845) .. controls (850,2520) and (990,2560) .. (c118);
\draw[conn] (c118) -- (R01067);
\draw[conn] (R01067) -- (c231);
\draw[conn] (R01067) -- (c279);
\draw[conn] (c231) -- (R01529);
\draw[conn] (R01529) -- (c199);
\draw[conn] (c199) -- (R01056);
\draw[conn] (R01056) -- (c117);
\draw[conn] (c11b) -- (R04732);
\draw[conn] (c5239) -- (R04732);
\draw[conn] (R04732) -- (c5516);
\draw[conn] (c11c) .. controls (1290,2400) and (1320,2440) .. (R04857);
\draw[conn] (c5516) -- (R04857);
\draw[conn] (c14a) .. controls (1440,2390) and (1400,2440) .. (R04857);
\draw[conn] (R04857) .. controls (1300,2560) and (1275,2620) .. (c1c);
\draw[conn] (R04857) -- (c5515);
\draw[conn] (c5515) -- (R02141);
\draw[conn] (R02141) -- (c1d);
\draw[conn] (R02141) -- (c385);
\draw[conn] (c80d) .. controls (1210,3160) and (1290,3200) .. (R01768);
\draw[conn] (c385) -- (R01768);
\draw[conn] (c4c) -- (R01768);
\draw[conn] (R01768) -- (c3c);
\draw[conn] (R01768) -- (c1e);
\draw[conn] (R01768) -- (c262);
\draw[conn] (c262) -- (R01244);
\draw[conn] (c14b) -- (R01244);
\draw[conn] (R01244) -- (c1f);
\draw[conn] (R01244) -- (c147);
\draw[conn] (c117) -- (R00182);
\draw[conn] (c147) .. controls (1640,3740) and (1580,3765) .. (R00182);
\draw[conn] (c147) -- (R00190);
\draw[conn] (c119) -- (R00190);
\draw[conn] (R00182) -- (c1g);
\draw[conn] (R00182) -- (c20);
\draw[conn] (R00190) -- (c20);
\draw[conn] (R00190) -- (c13);
\draw[conn] (R00289) -- (c13);
\draw[conn] (c20) -- (R01049);
\draw[conn] (R01049.west) .. controls (1400,4010) and (1330,3990) .. (1325,3850) .. controls (1322,3780) and (1328,3740) .. (c117);
\draw[conn] (c119) .. controls (1962,3900) and (1900,3990) .. (R01049);
\draw[conn] (R01049) -- (c2c);
\draw[conn] (R00016) .. controls (1560,290) and (1700,300) .. (c103);
\draw[conn] (c75) -- (R00289);
\draw[conn] (c103) -- (R00289);
\draw[conn] (R00289) .. controls (2050,570) and (2230,600) .. (c29);
\draw[conn] (c3a) -- (R00286);
\draw[conn] (c1a) -- (R00286);
\draw[conn] (c29) -- (R00286);
\draw[conn] (R00286) -- (c4a);
\draw[conn] (R00286) -- (c80a);
\draw[conn] (R00286) -- (c167);
\draw[conn] (c167) -- (R01384);
\draw[conn] (R01384) -- (c11a);
\draw[conn] (R01384) -- (c190);
\end{tikzpicture}
\end{document}
